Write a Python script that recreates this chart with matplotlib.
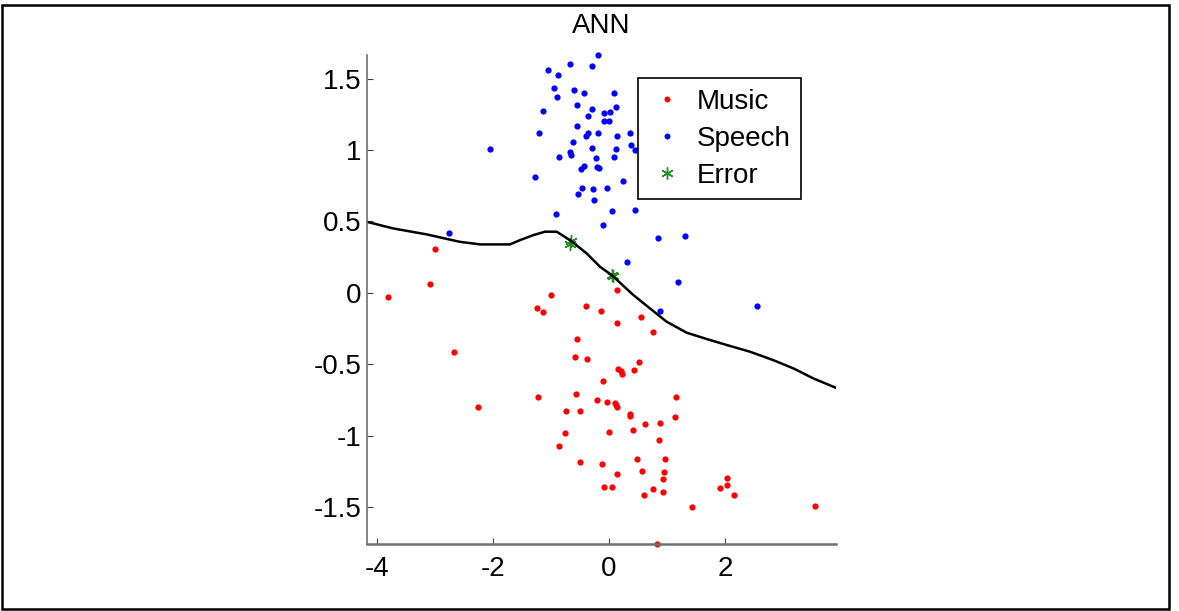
import matplotlib
matplotlib.use("Agg")
import matplotlib.pyplot as plt
from matplotlib.patches import Rectangle

plt.rcParams['font.family'] = ['Liberation Sans', 'DejaVu Sans']

music_x = [-3.805, -3.086, -2.994, -2.667, -2.264, -0.994, -1.236, -1.143, -0.391, -0.132,
           0.143, 0.138, 0.546, 0.764, -0.557, -0.592, -0.374, 0.512, 0.150, 0.200,
           0.224, 0.437, -0.098, -0.574, -0.207, -0.029, 0.109, 0.126, 0.138, -1.218,
           -0.741, -0.506, 0.362, 0.367, 0.621, 0.874, 0.420, -0.006, -0.753, 0.862,
           -0.868, 0.489, -0.506, -0.115, 0.563, 0.138, -0.080, 0.052, 0.764, 0.598,
           0.822, 1.155, 1.138, 0.971, 0.954, 0.931, 0.931, 1.431, 1.908, 2.029,
           2.029, 2.161, 3.54]
music_y = [-0.030, 0.059, 0.306, -0.418, -0.799, -0.016, -0.105, -0.135, -0.091, -0.128,
           0.021, -0.210, -0.173, -0.275, -0.322, -0.448, -0.463, -0.486, -0.537, -0.549,
           -0.567, -0.544, -0.619, -0.710, -0.752, -0.768, -0.771, -0.785, -0.799, -0.731,
           -0.829, -0.829, -0.850, -0.860, -0.918, -0.911, -0.962, -0.978, -0.985, -1.030,
           -1.074, -1.163, -1.186, -1.200, -1.247, -1.268, -1.364, -1.359, -1.373, -1.418,
           -1.758, -0.731, -0.873, -1.163, -1.254, -1.306, -1.394, -1.499, -1.366, -1.299,
           -1.350, -1.418, -1.493]

speech_x = [-0.19, -0.667, -0.30, -1.05, -0.885, -0.94, -0.61, -0.44, 0.086, -0.90,
            -0.557, -0.30, 0.126, -1.143, -0.09, 0.017, -0.367, -0.09, -0.005, -0.557,
            -1.212, -0.367, -0.40, -0.19, 0.367, 0.143, -0.626, 0.379, -2.057, -0.30,
            0.126, 0.454, -0.667, -0.65, -0.862, -0.224, 0.086, -0.425, -0.483, -0.207,
            -0.167, -1.27, 0.236, -0.466, -0.276, -0.04, -0.534, -0.259, 0.052, 0.454,
            -0.92, -0.098, -2.76, 0.85, 0.305, 1.316, 1.19, 2.546, 0.874]
speech_y = [1.664, 1.603, 1.589, 1.558, 1.523, 1.432, 1.418, 1.401, 1.401, 1.373,
            1.313, 1.290, 1.299, 1.275, 1.261, 1.268, 1.238, 1.201, 1.201, 1.170,
            1.119, 1.119, 1.096, 1.119, 1.119, 1.096, 1.058, 1.037, 1.007, 1.014,
            1.007, 1.000, 0.984, 0.967, 0.953, 0.946, 0.953, 0.888, 0.865, 0.879,
            0.872, 0.813, 0.785, 0.732, 0.725, 0.732, 0.694, 0.650, 0.575, 0.582,
            0.552, 0.472, 0.418, 0.381, 0.217, 0.395, 0.075, -0.091, -0.126]

error_x = [-0.68, -0.65, 0.045, 0.075]
error_y = [0.345, 0.360, 0.128, 0.115]

boundary_x = [-4.18, -3.72, -3.14, -2.57, -2.22, -1.707, -1.534, -1.305, -1.103, -0.902,
              -0.672, -0.385, -0.155, 0.046, 0.42, 0.707, 0.994, 1.339, 1.684, 2.029,
              2.43, 2.83, 3.178, 3.52, 3.91]
boundary_y = [0.498, 0.451, 0.409, 0.357, 0.339, 0.339, 0.369, 0.404, 0.428, 0.428,
              0.369, 0.276, 0.182, 0.124, -0.016, -0.110, -0.203, -0.280, -0.324, -0.366,
              -0.413, -0.472, -0.530, -0.600, -0.666]

xticks = [-4, -2, 0, 2]
yticks = [-1.5, -1, -0.5, 0, 0.5, 1, 1.5]
ytick_labels = ['-1.5', '-1', '-0.5', '0', '0.5', '1', '1.5']

fig = plt.figure(figsize=(11.79, 6.11), dpi=100)
ax = fig.add_axes([367/1179, 67/611, 469/1179, 489/611])

ax.plot(music_x, music_y, 'o', color='red', ms=4.5, mec='none', label='Music', clip_on=False)
ax.plot(speech_x, speech_y, 'o', color='blue', ms=4.5, mec='none', label='Speech', clip_on=False)
ax.plot(error_x, error_y, marker=(6, 2, 0), ls='none', color='#1f8f1f', ms=9, mew=1.0,
        label='Error')
ax.plot(boundary_x, boundary_y, '-', color='black', lw=1.8)

ax.set_xlim(-4.17, 3.91)
ax.set_ylim(-1.76, 1.666)
ax.set_xticks(xticks)
ax.set_xticklabels([str(t) for t in xticks])
ax.set_yticks(yticks)
ax.set_yticklabels(ytick_labels)

for s in ['top', 'right']:
    ax.spines[s].set_visible(False)
ax.spines['left'].set_color('#707070')
ax.spines['bottom'].set_color('#707070')
ax.spines['left'].set_linewidth(1.2)
ax.spines['bottom'].set_linewidth(1.8)
ax.tick_params(axis='both', direction='in', length=4, width=0.8, color='#404040',
               labelsize=20, labelcolor='black')
ax.tick_params(axis='x', pad=9)
ax.tick_params(axis='y', pad=4)

ax.set_title('ANN', fontsize=20, pad=16)

leg = ax.legend(loc='upper left', bbox_to_anchor=(0.578, 0.953), fontsize=20,
                frameon=True, fancybox=False, edgecolor='black', framealpha=1,
                borderpad=0.38, handlelength=1.3, handletextpad=0.42,
                labelspacing=0.40, markerscale=0.95, borderaxespad=0)
leg.get_frame().set_linewidth(1.2)

fig.patches.append(Rectangle((2/1179, 2/611), (1169-2)/1179, (606.5-2)/611,
                             transform=fig.transFigure, fill=False,
                             edgecolor='black', lw=1.8))

fig.savefig('out.png', dpi=100)
